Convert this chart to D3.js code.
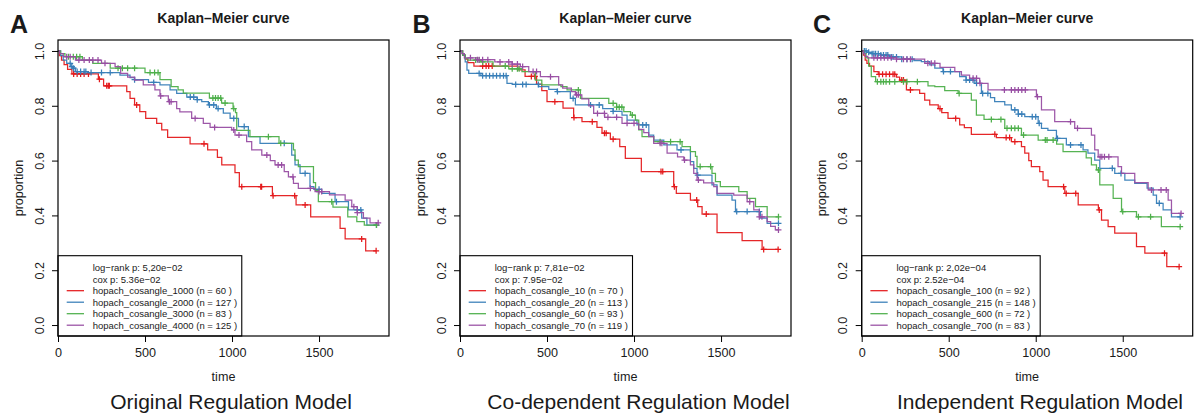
<!DOCTYPE html>
<html><head><meta charset="utf-8">
<script src="https://cdn.jsdelivr.net/npm/d3@7"></script>
<style>
body{margin:0;background:#fff}
text{font-family:"Liberation Sans",Arial,Helvetica,sans-serif;fill:#1a1a1a}
</style>
</head><body>
<svg id="c" width="1196" height="415"></svg>
<script>
// ---------- DATA (time in days, survival proportion) ----------
const xTicks = [0, 500, 1000, 1500];
const yTicks = [0, 0.2, 0.4, 0.6, 0.8, 1.0];
const panelLetters = ["A", "B", "C"];
const panelTitles = ["Kaplan\u2013Meier curve", "Kaplan\u2013Meier curve", "Kaplan\u2013Meier curve"];
const modelNames = ["Original Regulation Model", "Co-dependent Regulation Model", "Independent Regulation Model"];

// Panel A
const aGroups = ["hopach_cosangle_1000", "hopach_cosangle_2000", "hopach_cosangle_3000", "hopach_cosangle_4000"];
const aN = [60, 127, 83, 125];
const aStats = ["log\u2212rank p: 5,20e\u221202", "cox p: 5.36e\u221202"];
const aRedSteps = [[0,1],[8,0.983],[20,0.967],[35,0.95],[55,0.933],[80,0.916],[232,0.897],[262,0.873],[395,0.852],[414,0.827],[440,0.803],[470,0.779],[504,0.754],[567,0.736],[596,0.712],[630,0.685],[759,0.661],[860,0.639],[916,0.612],[941,0.584],[1017,0.556],[1042,0.505],[1232,0.472],[1368,0.438],[1452,0.395],[1621,0.353],[1650,0.314],[1768,0.271]];
const aRedCensor = [90,110,130,150,175,238,280,289,295,452,839,1056,1165,1170,1236,1360,1420,1745,1828];
const aBlueSteps = [[0,1],[15,0.983],[30,0.967],[50,0.955],[75,0.943],[85,0.937],[100,0.925],[170,0.921],[356,0.912],[414,0.903],[440,0.895],[520,0.885],[586,0.876],[644,0.858],[682,0.845],[740,0.832],[800,0.822],[826,0.815],[864,0.803],[910,0.79],[950,0.773],[989,0.754],[1037,0.724],[1094,0.687],[1161,0.663],[1343,0.62],[1362,0.584],[1391,0.553],[1448,0.505],[1470,0.495],[1516,0.48],[1592,0.45],[1669,0.42],[1745,0.39],[1775,0.365]];
const aBlueCensor = [70,80,90,110,130,150,160,190,250,300,440,550,760,780,800,870,895,920,1010,1070,1300,1420,1500,1600,1720,1740,1830];
const aGreenSteps = [[0,1],[15,0.99],[40,0.979],[140,0.967],[200,0.955],[300,0.937],[500,0.921],[586,0.895],[650,0.87],[690,0.858],[720,0.846],[870,0.828],[940,0.81],[1006,0.79],[1020,0.775],[1027,0.71],[1103,0.687],[1270,0.663],[1353,0.639],[1362,0.602],[1381,0.578],[1468,0.52],[1480,0.49],[1496,0.45],[1580,0.43],[1665,0.395],[1717,0.377],[1760,0.365]];
const aGreenCensor = [60,88,107,126,345,370,400,440,529,555,575,890,905,920,935,960,1010,1209,1280,1573,1830];
const aPurpleSteps = [[0,1],[10,0.99],[30,0.979],[100,0.967],[250,0.955],[328,0.943],[360,0.918],[400,0.905],[440,0.894],[490,0.876],[557,0.858],[586,0.836],[634,0.815],[682,0.79],[700,0.778],[768,0.754],[835,0.736],[874,0.721],[998,0.712],[1017,0.693],[1084,0.669],[1113,0.639],[1171,0.62],[1220,0.6],[1247,0.584],[1300,0.56],[1324,0.541],[1353,0.517],[1381,0.499],[1477,0.487],[1560,0.475],[1650,0.456],[1688,0.432],[1720,0.41],[1755,0.39],[1793,0.373]];
const aPurpleCensor = [50,70,120,150,180,200,230,270,590,640,650,788,900,1010,1040,1200,1265,1285,1350,1450,1500,1515,1700,1720,1840];

// Panel B
const bGroups = ["hopach_cosangle_10", "hopach_cosangle_20", "hopach_cosangle_60", "hopach_cosangle_70"];
const bN = [70, 113, 93, 119];
const bStats = ["log\u2212rank p: 7,81e\u221202", "cox p: 7.95e\u221202"];
const bRedSteps = [[0,1],[15,0.985],[30,0.97],[45,0.957],[80,0.945],[333,0.931],[374,0.907],[440,0.879],[470,0.855],[500,0.815],[592,0.791],[653,0.757],[701,0.742],[787,0.721],[816,0.70],[864,0.678],[918,0.651],[950,0.608],[1042,0.56],[1228,0.505],[1243,0.48],[1324,0.456],[1366,0.432],[1391,0.405],[1477,0.337],[1621,0.308],[1736,0.276]];
const bRedCensor = [130,150,165,185,410,430,545,655,760,830,840,880,1155,1165,1232,1360,1415,1745,1828];
const bBlueSteps = [[0,1],[15,0.985],[30,0.96],[40,0.93],[50,0.918],[120,0.91],[270,0.882],[300,0.878],[452,0.87],[510,0.86],[558,0.852],[634,0.827],[663,0.803],[820,0.79],[880,0.78],[931,0.766],[960,0.748],[1017,0.73],[1085,0.693],[1113,0.675],[1171,0.657],[1247,0.639],[1324,0.596],[1343,0.572],[1362,0.547],[1448,0.511],[1477,0.474],[1563,0.456],[1583,0.414],[1726,0.39],[1765,0.371]];
const bBlueCensor = [110,130,150,170,190,210,230,250,265,320,360,380,450,560,650,750,800,880,1050,1070,1270,1366,1590,1650,1720,1830];
const bGreenSteps = [[0,1],[15,0.985],[30,0.973],[45,0.967],[120,0.96],[190,0.945],[280,0.935],[356,0.925],[433,0.894],[470,0.876],[580,0.87],[615,0.858],[692,0.827],[855,0.809],[900,0.795],[941,0.779],[980,0.766],[1008,0.748],[1027,0.712],[1046,0.687],[1113,0.669],[1276,0.651],[1324,0.633],[1353,0.615],[1362,0.578],[1448,0.553],[1468,0.523],[1496,0.505],[1602,0.487],[1650,0.462],[1698,0.432],[1765,0.395]];
const bGreenCensor = [90,110,130,260,300,330,340,680,880,900,915,930,990,1150,1210,1265,1380,1440,1830];
const bPurpleSteps = [[0,1],[10,0.99],[25,0.975],[100,0.968],[200,0.96],[300,0.952],[347,0.943],[395,0.925],[462,0.906],[567,0.876],[590,0.864],[640,0.852],[663,0.84],[700,0.825],[740,0.8],[768,0.772],[831,0.758],[931,0.736],[1027,0.714],[1056,0.702],[1084,0.687],[1113,0.663],[1190,0.627],[1250,0.614],[1286,0.602],[1324,0.584],[1343,0.553],[1362,0.529],[1400,0.519],[1458,0.505],[1477,0.48],[1573,0.474],[1650,0.45],[1688,0.42],[1720,0.395],[1765,0.377],[1785,0.36],[1812,0.347]];
const bPurpleCensor = [60,100,110,130,160,230,280,300,330,360,420,440,520,670,680,790,830,850,900,960,1000,1150,1160,1290,1370,1665,1720,1735,1830];

// Panel C
const cGroups = ["hopach_cosangle_100", "hopach_cosangle_215", "hopach_cosangle_600", "hopach_cosangle_700"];
const cN = [92, 148, 72, 83];
const cStats = ["log\u2212rank p: 2,02e\u221204", "cox p: 2.52e\u221204"];
const cRedSteps = [[0,1],[10,0.985],[20,0.967],[30,0.955],[45,0.945],[70,0.925],[95,0.915],[200,0.905],[218,0.894],[257,0.858],[333,0.845],[362,0.821],[391,0.803],[440,0.79],[460,0.775],[496,0.754],[563,0.73],[590,0.72],[630,0.696],[774,0.684],[860,0.669],[918,0.651],[937,0.627],[960,0.6],[975,0.578],[1023,0.56],[1042,0.529],[1071,0.505],[1167,0.48],[1244,0.438],[1360,0.42],[1378,0.383],[1416,0.359],[1454,0.335],[1579,0.286],[1627,0.262],[1753,0.213]];
const cRedCensor = [100,120,140,160,180,190,230,240,280,450,540,765,830,850,880,1160,1175,1230,1365,1740,1824];
const cBlueSteps = [[0,1],[30,0.995],[60,0.99],[110,0.985],[160,0.978],[230,0.97],[300,0.965],[343,0.961],[391,0.949],[420,0.937],[467,0.925],[563,0.906],[600,0.894],[650,0.882],[688,0.845],[740,0.83],[764,0.815],[822,0.803],[860,0.785],[900,0.77],[937,0.76],[1014,0.736],[1033,0.718],[1070,0.71],[1119,0.681],[1176,0.657],[1272,0.639],[1300,0.627],[1339,0.602],[1368,0.572],[1454,0.553],[1512,0.529],[1569,0.517],[1640,0.5],[1675,0.474],[1694,0.444],[1732,0.42],[1780,0.395]];
const cBlueCensor = [15,25,40,60,70,80,95,110,125,140,150,170,180,200,230,260,290,470,510,600,620,640,660,695,725,880,900,920,980,1000,1020,1125,1200,1260,1440,1490,1710,1830];
const cGreenSteps = [[0,1],[12,0.99],[25,0.975],[40,0.945],[55,0.906],[80,0.888],[381,0.873],[420,0.87],[477,0.855],[554,0.845],[630,0.821],[659,0.766],[703,0.75],[822,0.718],[918,0.693],[1014,0.675],[1120,0.66],[1157,0.633],[1290,0.61],[1320,0.584],[1349,0.566],[1368,0.511],[1445,0.462],[1493,0.414],[1579,0.395],[1722,0.359]];
const cGreenCensor = [90,110,125,140,160,190,240,260,320,560,745,800,835,860,880,900,930,1055,1065,1100,1360,1500,1590,1660,1830];
const cPurpleSteps = [[0,1],[10,0.99],[20,0.98],[35,0.975],[200,0.97],[362,0.955],[450,0.94],[535,0.925],[573,0.912],[620,0.9],[678,0.882],[726,0.858],[1004,0.833],[1033,0.785],[1109,0.742],[1224,0.718],[1320,0.693],[1339,0.639],[1359,0.614],[1473,0.578],[1493,0.553],[1569,0.52],[1646,0.493],[1761,0.456],[1780,0.407]];
const cPurpleCensor = [70,90,110,130,150,170,200,240,260,280,380,400,420,640,660,680,820,860,880,900,920,940,1010,1200,1240,1370,1380,1395,1420,1665,1720,1750,1835];

// ---------- DRAWING ----------
const colors = ["#E41A1C", "#377EB8", "#4DAF4A", "#984EA3"];
const panels = [
  {left: 58, letterX: 10, subX: 231, groups: aGroups, n: aN, stats: aStats,
   steps: [aRedSteps, aBlueSteps, aGreenSteps, aPurpleSteps],
   cens: [aRedCensor, aBlueCensor, aGreenCensor, aPurpleCensor]},
  {left: 460, letterX: 412.5, subX: 638.5, groups: bGroups, n: bN, stats: bStats,
   steps: [bRedSteps, bBlueSteps, bGreenSteps, bPurpleSteps],
   cens: [bRedCensor, bBlueCensor, bGreenCensor, bPurpleCensor]},
  {left: 861.7, letterX: 813, subX: 1040, groups: cGroups, n: cN, stats: cStats,
   steps: [cRedSteps, cBlueSteps, cGreenSteps, cPurpleSteps],
   cens: [cRedCensor, cBlueCensor, cGreenCensor, cPurpleCensor]}
];

const svg = d3.select("#c");
const plotW = 331, plotTop = 40, plotBottom = 336;
const y = d3.scaleLinear().domain([-0.04, 1.04]).range([plotBottom, plotTop]);

function survAt(steps, t) {
  let s = 1;
  for (const [ti, si] of steps) if (ti <= t) s = si;
  return s;
}

panels.forEach((p, pi) => {
  const x = d3.scaleLinear().domain([0, 1902]).range([p.left, p.left + plotW]);
  const g = svg.append("g");

  g.append("text").attr("x", p.letterX).attr("y", 33)
    .attr("font-size", 25).attr("font-weight", "bold").attr("fill", "#111")
    .text(panelLetters[pi]);
  g.append("text").attr("x", p.left + plotW / 2).attr("y", 22.5)
    .attr("text-anchor", "middle").attr("font-size", 14).attr("font-weight", "bold")
    .text(panelTitles[pi]);

  const xa = g.append("g").attr("transform", `translate(0,${plotBottom})`)
    .call(d3.axisBottom(x).tickValues(xTicks).tickSize(6).tickFormat(d3.format("d")));
  xa.select(".domain").remove();
  xa.selectAll("line").attr("stroke", "#000");
  xa.selectAll("text").attr("font-size", 12.6).attr("font-family", null).attr("fill", "#1a1a1a")
    .attr("dy", null).attr("y", 20.5);

  const ya = g.append("g").attr("transform", `translate(${p.left},0)`)
    .call(d3.axisLeft(y).tickValues(yTicks).tickSize(6).tickFormat(d3.format(".1f")));
  ya.select(".domain").remove();
  ya.selectAll("line").attr("stroke", "#000");
  ya.selectAll("text").attr("font-size", 12.6).attr("font-family", null).attr("fill", "#1a1a1a")
    .attr("x", 0).attr("y", 0).attr("dy", "0.36em").attr("text-anchor", "middle")
    .attr("transform", "translate(-19,0) rotate(-90)");

  g.append("text").attr("transform", `translate(${p.left - 40},${(plotTop + plotBottom) / 2}) rotate(-90)`)
    .attr("text-anchor", "middle").attr("dy", "0.36em").attr("font-size", 12.6).text("proportion");
  g.append("text").attr("x", p.left + plotW / 2).attr("y", 380.5)
    .attr("text-anchor", "middle").attr("font-size", 12.6).text("time");
  g.append("text").attr("x", p.subX).attr("y", 408.5)
    .attr("text-anchor", "middle").attr("font-size", 21).attr("fill", "#222").text(modelNames[pi]);

  const line = d3.line().x(d => x(d[0])).y(d => y(d[1])).curve(d3.curveStepAfter);
  p.steps.forEach((steps, si) => {
    const cens = p.cens[si];
    const tEnd = Math.max(steps[steps.length - 1][0], d3.max(cens));
    const pts = steps.concat([[tEnd, steps[steps.length - 1][1]]]);
    g.append("path").attr("d", line(pts)).attr("fill", "none")
      .attr("stroke", colors[si]).attr("stroke-width", 1.25).attr("stroke-opacity", 0.95);
    g.append("g").selectAll("path").data(cens).join("path")
      .attr("d", t => {
        const cx = x(t), cy = y(survAt(steps, t));
        return `M${cx - 3},${cy}H${cx + 3}M${cx},${cy - 3}V${cy + 3}`;
      })
      .attr("stroke", colors[si]).attr("stroke-width", 1.25).attr("fill", "none");
  });

  const lg = g.append("g");
  const legTop = 255.7, textX = p.left + 34.7;
  const rows = [p.stats[0], p.stats[1]].concat(p.groups.map((gname, i) => `${gname} (n = ${p.n[i]} )`));
  const rect = lg.append("rect").attr("x", p.left).attr("y", legTop).attr("height", plotBottom - legTop)
    .attr("fill", "#fff").attr("stroke", "#000").attr("stroke-width", 1.1);
  let maxW = 0;
  rows.forEach((r, i) => {
    const cy = 267.7 + i * 11.5;
    const t = lg.append("text").attr("x", textX).attr("y", cy).attr("dy", "0.35em")
      .attr("font-size", 9.5).attr("fill", "#222").text(r);
    maxW = Math.max(maxW, t.node().getComputedTextLength());
    if (i >= 2) {
      lg.append("line").attr("x1", p.left + 8.7).attr("x2", p.left + 26)
        .attr("y1", cy).attr("y2", cy).attr("stroke", colors[i - 2]).attr("stroke-width", 1.25);
    }
  });
  rect.attr("width", textX + maxW + 4.6 - p.left);

  g.append("rect").attr("x", p.left).attr("y", plotTop).attr("width", plotW).attr("height", plotBottom - plotTop)
    .attr("fill", "none").attr("stroke", "#000").attr("stroke-width", 1.2);
});
</script>
</body></html>
